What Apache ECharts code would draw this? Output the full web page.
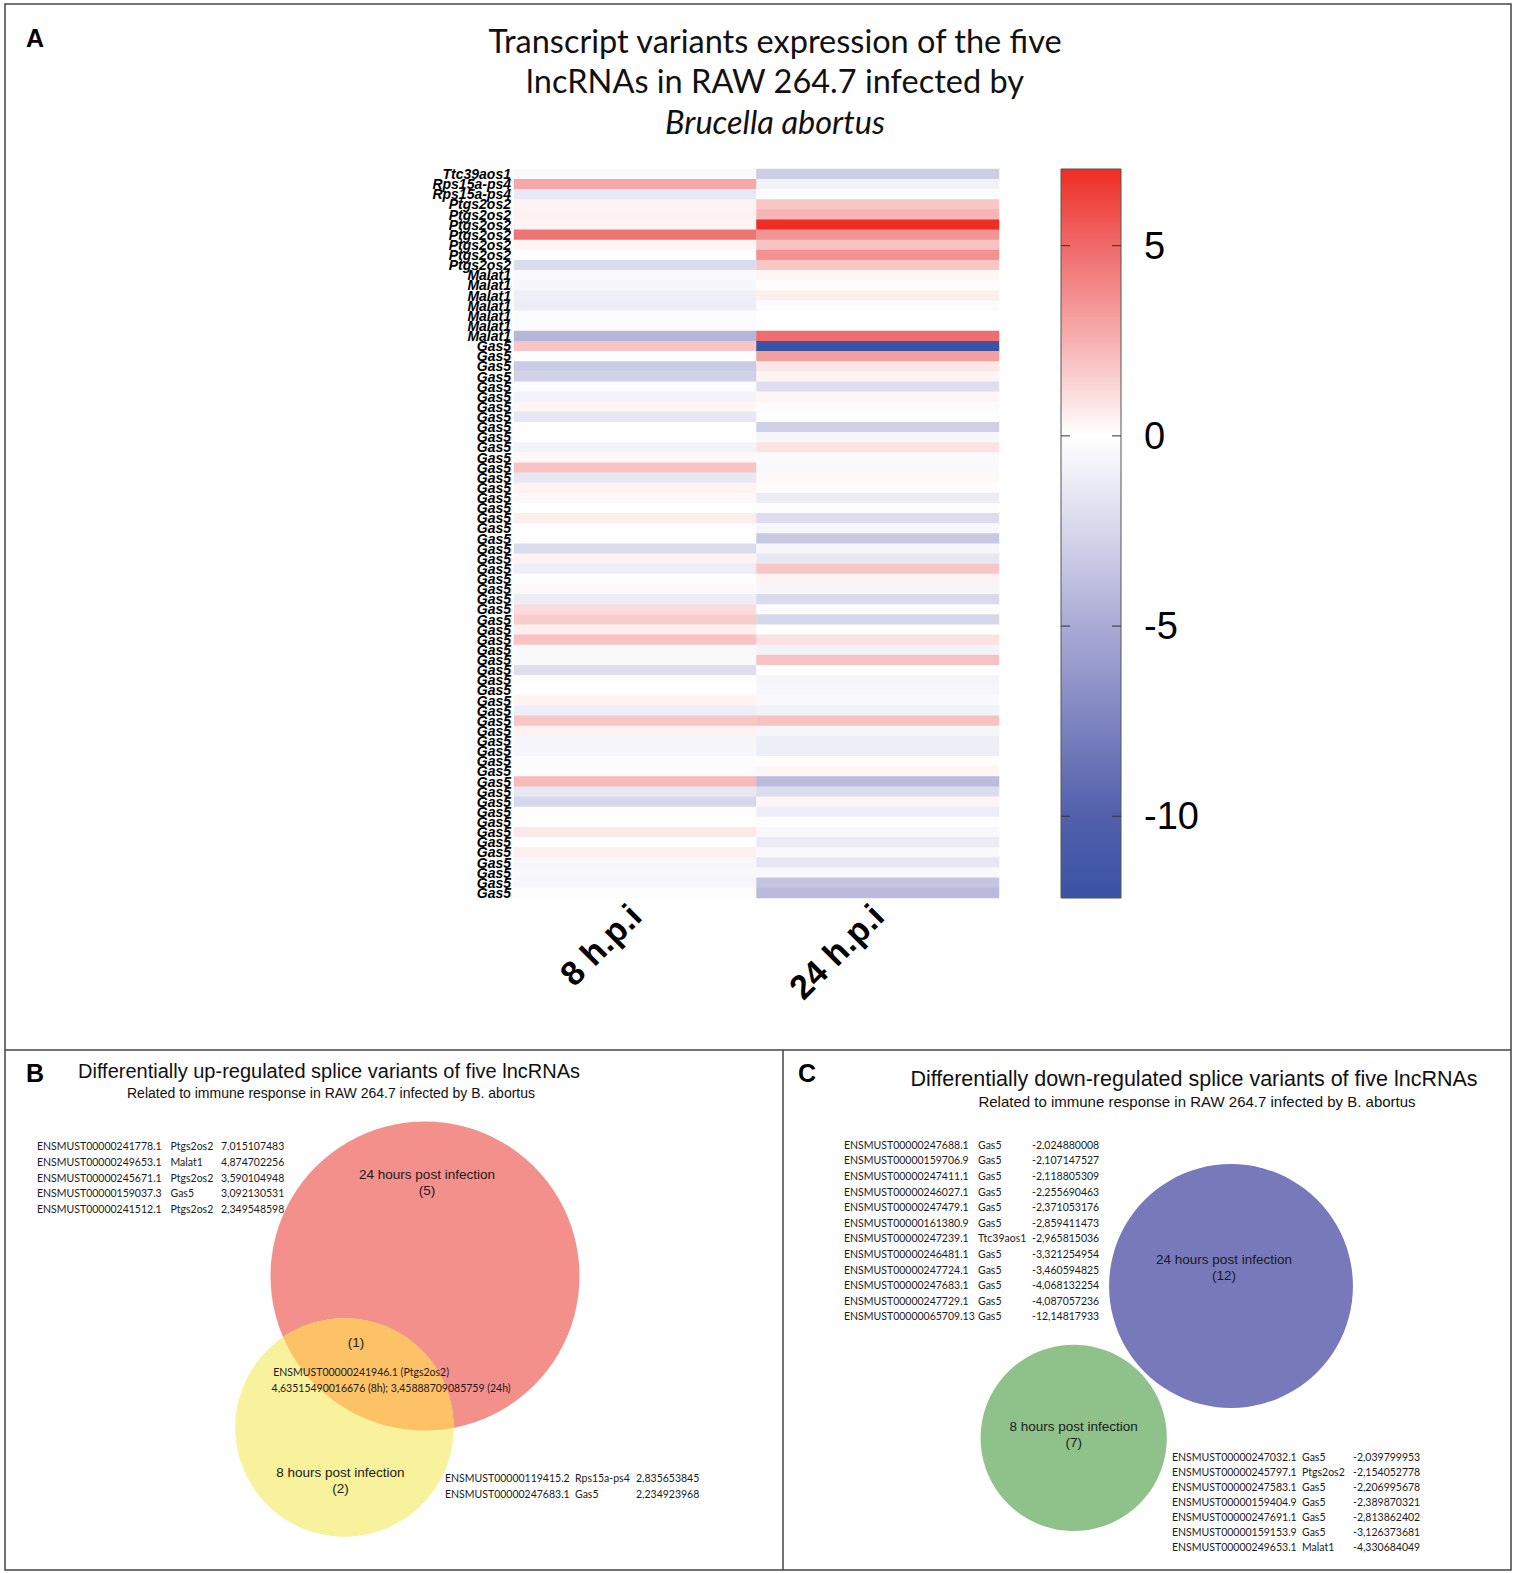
<!DOCTYPE html>
<html><head><meta charset="utf-8">
<script src="https://cdn.jsdelivr.net/npm/echarts@6/dist/echarts.min.js"></script>
<style>html,body{margin:0;padding:0;background:#fff}#c{width:1514px;height:1573px}</style>
</head><body><div id="c"></div>
<script>
// ---------------- DATA ----------------
const rowLabels = ['Ttc39aos1','Rps15a-ps4','Rps15a-ps4',
 'Ptgs2os2','Ptgs2os2','Ptgs2os2','Ptgs2os2','Ptgs2os2','Ptgs2os2','Ptgs2os2',
 'Malat1','Malat1','Malat1','Malat1','Malat1','Malat1','Malat1',
 'Gas5','Gas5','Gas5','Gas5','Gas5','Gas5','Gas5','Gas5','Gas5','Gas5',
 'Gas5','Gas5','Gas5','Gas5','Gas5','Gas5','Gas5','Gas5','Gas5','Gas5',
 'Gas5','Gas5','Gas5','Gas5','Gas5','Gas5','Gas5','Gas5','Gas5','Gas5',
 'Gas5','Gas5','Gas5','Gas5','Gas5','Gas5','Gas5','Gas5','Gas5','Gas5',
 'Gas5','Gas5','Gas5','Gas5','Gas5','Gas5','Gas5','Gas5','Gas5','Gas5',
 'Gas5','Gas5','Gas5','Gas5','Gas5'];
const timepoints = ['8 h.p.i', '24 h.p.i'];
const h8 = [-0.3, 2.835653845, -1.4,
 0.4, 0.45, 0.35, 4.63515490016676, 0.3, 0.05, -2.154052778,
 -0.3, -0.5, -1.0, -1.1, -0.2, -0.2, -4.330684049,
 1.85, -0.1, -3.126373681, -2.813862402, -0.15, -0.8, 0.3, -1.4, 0.05, 0.05,
 -0.7, 0.2, 1.9, -1.4, 0.4, 0.2, 0.0, 0.5, 0.05, 0.02,
 -2.206995678, 0.4, -1.0, -0.1, 0.2, -1.1, 1.1, 1.6, 0.5, 1.9,
 -0.4, -0.4, -2.039799953, -0.1, 0.0, 0.4, -1.0, 1.8, 0.4, -0.6,
 -0.5, -0.2, -0.2, 2.234923968, -1.4, -2.389870321, 0.1, 0.0, 0.7, 0.02,
 0.5, -0.5, -0.4, -0.5, -0.1];
const h24 = [-2.965815036, -0.8, -0.2,
 1.8, 2.349548598, 7.015107483, 3.45888709085759, 1.9, 3.590104948, 1.8,
 0.3, -0.1, 0.5, -0.15, -0.05, -0.05, 4.874702256,
 -12.14817933, 3.092130531, 0.8, 0.35, -2.024880008, 0.3, -0.15, -0.1, -2.859411473, -0.5,
 0.9, -0.3, -0.4, 0.15, 0.1, -1.1, -0.1, -2.107147527, -0.5, -3.321254954,
 -0.5, -1.4, 1.8, 0.4, -0.5, -2.255690463, -0.1, -2.371053176, 0.02, 0.9,
 -0.8, 1.95, 0.02, -0.6, -0.5, -0.4, -0.8, 1.95, -0.5, -1.0,
 -1.0, 0.1, 0.3, -4.068132254, -2.118805309, 0.3, -1.0, -0.1, -0.4, -1.2,
 -0.4, -1.5, -0.4, -3.460594825, -4.087057236];
const colorbarTicks = [5, 0, -5, -10];

const upOnly24 = [
 ['ENSMUST00000241778.1', 'Ptgs2os2', 7.015107483],
 ['ENSMUST00000249653.1', 'Malat1', 4.874702256],
 ['ENSMUST00000245671.1', 'Ptgs2os2', 3.590104948],
 ['ENSMUST00000159037.3', 'Gas5', 3.092130531],
 ['ENSMUST00000241512.1', 'Ptgs2os2', 2.349548598]];
const upOnly8 = [
 ['ENSMUST00000119415.2', 'Rps15a-ps4', 2.835653845],
 ['ENSMUST00000247683.1', 'Gas5', 2.234923968]];
const upBoth = [['ENSMUST00000241946.1', 'Ptgs2os2', 4.63515490016676, 3.45888709085759]];
const downOnly24 = [
 ['ENSMUST00000247688.1', 'Gas5', -2.024880008],
 ['ENSMUST00000159706.9', 'Gas5', -2.107147527],
 ['ENSMUST00000247411.1', 'Gas5', -2.118805309],
 ['ENSMUST00000246027.1', 'Gas5', -2.255690463],
 ['ENSMUST00000247479.1', 'Gas5', -2.371053176],
 ['ENSMUST00000161380.9', 'Gas5', -2.859411473],
 ['ENSMUST00000247239.1', 'Ttc39aos1', -2.965815036],
 ['ENSMUST00000246481.1', 'Gas5', -3.321254954],
 ['ENSMUST00000247724.1', 'Gas5', -3.460594825],
 ['ENSMUST00000247683.1', 'Gas5', -4.068132254],
 ['ENSMUST00000247729.1', 'Gas5', -4.087057236],
 ['ENSMUST00000065709.13', 'Gas5', -12.14817933]];
const downOnly8 = [
 ['ENSMUST00000247032.1', 'Gas5', -2.039799953],
 ['ENSMUST00000245797.1', 'Ptgs2os2', -2.154052778],
 ['ENSMUST00000247583.1', 'Gas5', -2.206995678],
 ['ENSMUST00000159404.9', 'Gas5', -2.389870321],
 ['ENSMUST00000247691.1', 'Gas5', -2.813862402],
 ['ENSMUST00000159153.9', 'Gas5', -3.126373681],
 ['ENSMUST00000249653.1', 'Malat1', -4.330684049]];
const downBoth = [];
const setLabels = ['24 hours post infection', '8 hours post infection'];

// ---------------- STYLE / LAYOUT ----------------
const VMIN = Math.min(...h8, ...h24), VMAX = Math.max(...h8, ...h24);
const ramp = [[VMAX,'#EE2E24'],[5,'#F06969'],[2.5,'#F7B0B0'],[0,'#FFFFFF'],[-2.5,'#D6D6EC'],
              [-5,'#AAAAD5'],[-7.5,'#7D84C0'],[-10,'#5260AC'],[VMIN,'#3A53A4']];
function hex2rgb(h){return [1,3,5].map(i=>parseInt(h.substr(i,2),16));}
function colorAt(v){
  for(let i=0;i<ramp.length-1;i++){
    const [va,ca]=ramp[i],[vb,cb]=ramp[i+1];
    if(v<=va && v>=vb){const t=(va-v)/(va-vb);const a=hex2rgb(ca),b=hex2rgb(cb);
      return 'rgb('+a.map((x,k)=>Math.round(x+(b[k]-x)*t)).join(',')+')';}
  }
  return v>VMAX?ramp[0][1]:ramp[ramp.length-1][1];
}
const NS=121, vmColors=[];
for(let k=0;k<NS;k++) vmColors.push(colorAt(VMIN+(VMAX-VMIN)*k/(NS-1)));
const barStops = ramp.map(([v,c])=>({offset:(VMAX-v)/(VMAX-VMIN), color:c}));

const fmt = v => String(v).replace('.', ',');
const FONT = 'Liberation Sans, Arial, sans-serif';
const LFONT = 'Lato, Carlito, sans-serif';
const LSIZE = 10.5;

const heatData = [];
rowLabels.forEach((_, i) => { heatData.push([0, i, h8[i]]); heatData.push([1, i, h24[i]]); });

function lensArea(r1,r2,d){
  if(d>=r1+r2) return 0;
  if(d<=Math.abs(r1-r2)) return Math.PI*Math.min(r1,r2)**2;
  const a1=Math.acos((d*d+r1*r1-r2*r2)/(2*d*r1)), a2=Math.acos((d*d+r2*r2-r1*r1)/(2*d*r2));
  return r1*r1*(a1-Math.sin(2*a1)/2)+r2*r2*(a2-Math.sin(2*a2)/2);
}
function solveD(r1,r2,target,gap){
  if(target<=0) return r1+r2+gap;
  let lo=Math.abs(r1-r2),hi=r1+r2;
  for(let k=0;k<60;k++){const m=(lo+hi)/2; if(lensArea(r1,r2,m)>target) lo=m; else hi=m;}
  return (lo+hi)/2;
}
const vennB = {c1:[417,223], k:63.07, angle:118, gap:0, colors:['#F3908B','#F7F29B','#FEC266'],
  label24:[2,-94], label8:[-4,53], bothCount:[-18,-29], bothId:[-13,0], bothVals:[17,16]};
const vennC = {c1:[446,233], k:35.2, angle:136, gap:3.6, colors:['#7779BB','#8FC28A','#8FC28A'],
  label24:[-7,-19], label8:[0,-3]};

function vennRender(L, both){
  return function(params, api){
    const o24=api.value(0), o8=api.value(1), nb=api.value(2);
    const n1=o24+nb, n2=o8+nb;
    const r1=L.k*Math.sqrt(n1), r2=L.k*Math.sqrt(n2);
    const d=solveD(r1,r2,nb/n1*Math.PI*r1*r1,L.gap);
    const th=L.angle*Math.PI/180;
    const c1=L.c1, c2=[c1[0]+d*Math.cos(th), c1[1]+d*Math.sin(th)];
    const P=p=>api.coord(p), S=r=>api.size([r,0])[0];
    const p1=P(c1), p2=P(c2);
    const kids=[
      {type:'circle', shape:{cx:p1[0],cy:p1[1],r:S(r1)}, style:{fill:L.colors[0]}},
      {type:'circle', shape:{cx:p2[0],cy:p2[1],r:S(r2)}, style:{fill:L.colors[1]}}
    ];
    const tx=(pt,text,size,fam)=>({type:'text', x:pt[0], y:pt[1],
      style:{text, fill:'#1a1a1a', fontSize:size, fontFamily:fam, lineHeight:Math.round(size*1.2),
        textAlign:'center', align:'center', textVerticalAlign:'middle', verticalAlign:'middle'}});
    if(nb>0){
      const a1=Math.acos((d*d+r1*r1-r2*r2)/(2*d*r1)), a2=Math.acos((d*d+r2*r2-r1*r1)/(2*d*r2));
      const pts=[], N=48;
      for(let k=0;k<=N;k++){const t=th-a1+2*a1*k/N; pts.push(P([c1[0]+r1*Math.cos(t), c1[1]+r1*Math.sin(t)]));}
      for(let k=0;k<=N;k++){const t=th+Math.PI-a2+2*a2*k/N; pts.push(P([c2[0]+r2*Math.cos(t), c2[1]+r2*Math.sin(t)]));}
      kids.push({type:'polygon', shape:{points:pts}, style:{fill:L.colors[2]}});
      const in1=[c1[0]+r1*Math.cos(th), c1[1]+r1*Math.sin(th)], in2=[c2[0]-r2*Math.cos(th), c2[1]-r2*Math.sin(th)];
      const lc=[(in1[0]+in2[0])/2,(in1[1]+in2[1])/2];
      const off=o=>P([lc[0]+o[0], lc[1]+o[1]]);
      kids.push(tx(off(L.bothCount), '('+nb+')', 13.5, FONT));
      kids.push(tx(off(L.bothId), both[0][0]+' ('+both[0][1]+')', LSIZE, LFONT));
      kids.push(tx(off(L.bothVals), fmt(both[0][2])+' (8h); '+fmt(both[0][3])+' (24h)', LSIZE, LFONT));
    }
    kids.push(tx(P([c1[0]+L.label24[0], c1[1]+L.label24[1]]), setLabels[0]+'\n('+o24+')', 13.5, FONT));
    kids.push(tx(P([c2[0]+L.label8[0], c2[1]+L.label8[1]]), setLabels[1]+'\n('+o8+')', 13.5, FONT));
    return {type:'group', children:kids};
  };
}

function colorbarRender(params, api){
  const a=api.coord([0,VMAX]), b=api.coord([1,VMIN]);
  const kids=[{type:'rect', shape:{x:a[0],y:a[1],width:b[0]-a[0],height:b[1]-a[1]},
    style:{fill:new echarts.graphic.LinearGradient(0,0,0,1,barStops), stroke:'#555', lineWidth:1}}];
  const TL=9;
  colorbarTicks.forEach(v=>{
    const y=api.coord([0,v])[1];
    kids.push({type:'line', shape:{x1:a[0],y1:y,x2:a[0]+TL,y2:y}, style:{stroke:'#333', lineWidth:1}});
    kids.push({type:'line', shape:{x1:b[0]-TL,y1:y,x2:b[0],y2:y}, style:{stroke:'#333', lineWidth:1}});
  });
  return {type:'group', children:kids};
}

function listEl(rows, x, y, w0, w1, lh){
  const text = rows.map(r=>'{a|'+r[0]+'}{b|'+r[1]+'}{c|'+fmt(r[2])+'}').join('\n');
  const base={fontSize:LSIZE, fontFamily:LFONT, fill:'#1a1a1a', lineHeight:lh};
  return {type:'text', x, y, z:10, style:{text, textAlign:'left', align:'left', textVerticalAlign:'top', verticalAlign:'top',
    fontSize:LSIZE, fontFamily:LFONT, lineHeight:lh,
    rich:{a:Object.assign({width:w0},base), b:Object.assign({width:w1},base), c:base}}};
}
function txt(x,y,text,size,opts){
  return {type:'text', x, y, style:Object.assign({text, fill:'#111', fontSize:size, fontFamily:FONT,
    textAlign:'left', align:'left', textVerticalAlign:'middle', verticalAlign:'middle'}, opts||{})};
}

const option = {
  backgroundColor:'#fff',
  animation:false,
  grid:[
    {left:514, top:169, width:485, height:729},
    {left:1061, top:169, width:60, height:729},
    {left:8, top:1053, width:770, height:513},
    {left:785, top:1053, width:723, height:513}
  ],
  xAxis:[
    {type:'category', gridIndex:0, data:timepoints, axisLine:{show:false}, axisTick:{show:false}, splitLine:{show:false},
      axisLabel:{rotate:45, fontSize:34, fontWeight:'bold', fontFamily:FONT, color:'#000', margin:12}},
    {type:'value', gridIndex:1, min:0, max:1, show:false},
    {type:'value', gridIndex:2, min:0, max:770, show:false},
    {type:'value', gridIndex:3, min:0, max:723, show:false}
  ],
  yAxis:[
    {type:'category', gridIndex:0, data:rowLabels, inverse:true, axisLine:{show:false}, axisTick:{show:false}, splitLine:{show:false},
      axisLabel:{interval:0, fontSize:14, lineHeight:9, fontStyle:'italic', fontWeight:'bold', fontFamily:FONT, color:'#000', margin:3}},
    {type:'value', gridIndex:1, min:VMIN, max:VMAX, position:'right', axisLine:{show:false}, splitLine:{show:false},
      axisTick:{show:false},
      axisLabel:{customValues:colorbarTicks, fontSize:38, margin:23, color:'#000', fontFamily:FONT}},
    {type:'value', gridIndex:2, min:0, max:513, inverse:true, show:false},
    {type:'value', gridIndex:3, min:0, max:513, inverse:true, show:false}
  ],
  visualMap:{type:'continuous', min:VMIN, max:VMAX, show:false, seriesIndex:0, dimension:2, inRange:{color:vmColors}},
  series:[
    {type:'heatmap', xAxisIndex:0, yAxisIndex:0, data:heatData, itemStyle:{borderWidth:0}, emphasis:{disabled:true}, progressive:0},
    {type:'custom', xAxisIndex:1, yAxisIndex:1, data:[[0, VMIN]], silent:true, renderItem:colorbarRender},
    {type:'custom', xAxisIndex:2, yAxisIndex:2, silent:true,
      data:[[upOnly24.length, upOnly8.length, upBoth.length]], renderItem:vennRender(vennB, upBoth)},
    {type:'custom', xAxisIndex:3, yAxisIndex:3, silent:true,
      data:[[downOnly24.length, downOnly8.length, downBoth.length]], renderItem:vennRender(vennC, downBoth)}
  ],
  graphic:[
    {type:'rect', shape:{x:5,y:4,width:1506,height:1566}, style:{fill:'none', stroke:'#444', lineWidth:1.5}, silent:true},
    {type:'line', shape:{x1:5,y1:1050,x2:1511,y2:1050}, style:{stroke:'#444', lineWidth:1.5}, silent:true},
    {type:'line', shape:{x1:783,y1:1050,x2:783,y2:1570}, style:{stroke:'#444', lineWidth:1.5}, silent:true},
    txt(26,38,'A',25,{fontWeight:'bold', fill:'#000'}),
    txt(26,1073,'B',25,{fontWeight:'bold', fill:'#000'}),
    txt(798,1073,'C',25,{fontWeight:'bold', fill:'#000'}),
    {type:'text', x:775, y:20, style:{text:'{n|Transcript variants expression of the five}\n{n|lncRNAs in RAW 264.7 infected by}\n{i|Brucella abortus}',
      textAlign:'center', align:'center', textVerticalAlign:'top', verticalAlign:'top', fontSize:32.5, fontFamily:LFONT, lineHeight:40.6,
      rich:{n:{fontSize:32.5, fontFamily:LFONT, fill:'#111', lineHeight:40.6}, i:{fontSize:32.5, fontFamily:LFONT, fontStyle:'italic', fill:'#111', lineHeight:40.6}}}},
    txt(78,1071,'Differentially up-regulated splice variants of five lncRNAs',20),
    txt(331,1093,'Related to immune response in RAW 264.7 infected by B. abortus',14,{textAlign:'center', align:'center'}),
    txt(1194,1079,'Differentially down-regulated splice variants of five lncRNAs',21.5,{textAlign:'center', align:'center'}),
    txt(1197,1101,'Related to immune response in RAW 264.7 infected by B. abortus',15,{textAlign:'center', align:'center'}),
    listEl(upOnly24, 37, 1138, 133.5, 50.5, 15.8),
    listEl(upOnly8, 445, 1470, 130, 61, 16),
    listEl(downOnly24, 844, 1137, 134, 54, 15.6),
    listEl(downOnly8, 1172, 1449, 130, 51, 15.1)
  ]
};
const chart = echarts.init(document.getElementById('c'), null, {renderer:'svg', width:1514, height:1573});
chart.setOption(option);
</script></body></html>
